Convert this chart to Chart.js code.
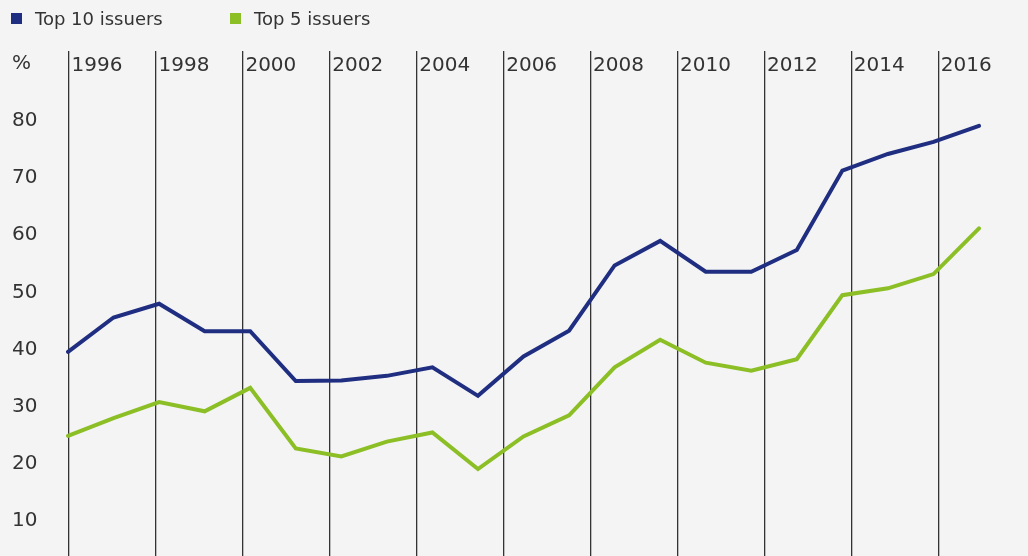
<!DOCTYPE html>
<html>
<head>
<meta charset="utf-8">
<script src="https://cdn.jsdelivr.net/npm/chart.js@4.4.1/dist/chart.umd.min.js"></script>
<style>
  html, body { margin: 0; padding: 0; background: #f4f4f4; }
  #wrap { position: relative; width: 1028px; height: 556px; overflow: hidden; }
  #legend { position: absolute; left: 0; top: 0; width: 1028px; height: 40px;
            font-family: "DejaVu Sans", sans-serif; font-size: 18px; color: #333; }
  .item { position: absolute; top: 10px; line-height: 18px; white-space: nowrap; }
  .box { position: absolute; width: 11px; height: 11px; top: 3px; }
  .txt { position: absolute; top: 0; }
  canvas { position: absolute; left: 0; top: 0; }
</style>
</head>
<body>
<div id="wrap">
  <canvas id="c" width="1028" height="556"></canvas>
  <div id="legend"></div>
</div>
<script>
// ---- data ----
const years = [1996, 1997, 1998, 1999, 2000, 2001, 2002, 2003, 2004, 2005, 2006,
               2007, 2008, 2009, 2010, 2011, 2012, 2013, 2014, 2015, 2016];
const top10 = [39.6, 45.6, 48.0, 43.2, 43.2, 34.5, 34.6, 35.4, 36.9, 31.9, 38.8,
               43.3, 54.7, 59.0, 53.6, 53.6, 57.4, 71.3, 74.2, 76.3, 79.1];
const top5  = [24.9, 28.0, 30.8, 29.2, 33.3, 22.7, 21.3, 23.9, 25.5, 19.1, 24.8,
               28.5, 36.9, 41.7, 37.7, 36.3, 38.3, 49.5, 50.7, 53.2, 61.2];
const seriesNames = ["Top 10 issuers", "Top 5 issuers"];
const seriesColors = ["#1f2e80", "#8cbf26"];
const yearTicks = [1996, 1998, 2000, 2002, 2004, 2006, 2008, 2010, 2012, 2014, 2016];
const yTicks = [10, 20, 30, 40, 50, 60, 70, 80, 90];
const yTickLabels = ["10", "20", "30", "40", "50", "60", "70", "80", "%"];

// ---- legend (HTML) ----
const legendPos = [11, 230];
const legend = document.getElementById('legend');
seriesNames.forEach((name, i) => {
  const it = document.createElement('div');
  it.className = 'item';
  it.style.left = legendPos[i] + 'px';
  it.innerHTML = '<span class="box" style="left:0;background:' + seriesColors[i] +
                 '"></span><span class="txt" style="left:24px">' + name + '</span>';
  legend.appendChild(it);
});

const FONT = '"DejaVu Sans", sans-serif';
const TXT = '#333333';

const yearLabelPlugin = {
  id: 'yearLabels',
  afterDraw(chart) {
    const s = chart.scales.xYears;
    const ctx = chart.ctx;
    ctx.save();
    ctx.font = '20px ' + FONT;
    ctx.fillStyle = TXT;
    ctx.textAlign = 'left';
    ctx.textBaseline = 'alphabetic';
    yearTicks.forEach(y => {
      ctx.fillText(String(y), s.getPixelForValue(y) + 2.5, 71);
    });
    ctx.restore();
  }
};

new Chart(document.getElementById('c'), {
  type: 'line',
  data: {
    labels: years.map(String),
    datasets: [
      { label: seriesNames[0], data: top10, borderColor: seriesColors[0],
        backgroundColor: seriesColors[0], borderWidth: 4, pointRadius: 0,
        tension: 0, borderCapStyle: 'round', borderJoinStyle: 'miter', xAxisID: 'x' },
      { label: seriesNames[1], data: top5, borderColor: seriesColors[1],
        backgroundColor: seriesColors[1], borderWidth: 4, pointRadius: 0,
        tension: 0, borderCapStyle: 'round', borderJoinStyle: 'miter', xAxisID: 'x' }
    ]
  },
  options: {
    responsive: false,
    animation: false,
    events: [],
    layout: { padding: { left: 12, right: 49, top: 51, bottom: 0 } },
    plugins: { legend: { display: false }, tooltip: { enabled: false } },
    scales: {
      x: { type: 'category', display: false, offset: false },
      xYears: {
        type: 'linear', position: 'top', min: 1995.975, max: 2016.937,
        afterBuildTicks: s => { s.ticks = yearTicks.map(v => ({ value: v })); },
        afterFit: s => { s.height = 0; s.paddingLeft = 0; s.paddingRight = 0; },
        grid: { color: '#333333', lineWidth: 1.3, drawTicks: false },
        border: { display: false },
        ticks: { display: false }
      },
      y: {
        min: 3.9, max: 92.2,
        afterBuildTicks: s => { s.ticks = yTicks.map(v => ({ value: v })); },
        afterFit: s => { s.width = 56; s.paddingTop = 0; s.paddingBottom = 0; },
        grid: { display: false, drawTicks: false },
        border: { display: false },
        ticks: {
          crossAlign: 'far', padding: 0, color: TXT,
          font: { family: FONT, size: 20 },
          callback: (v) => yTickLabels[yTicks.indexOf(v)]
        }
      }
    }
  },
  plugins: [yearLabelPlugin]
});
</script>
</body>
</html>
